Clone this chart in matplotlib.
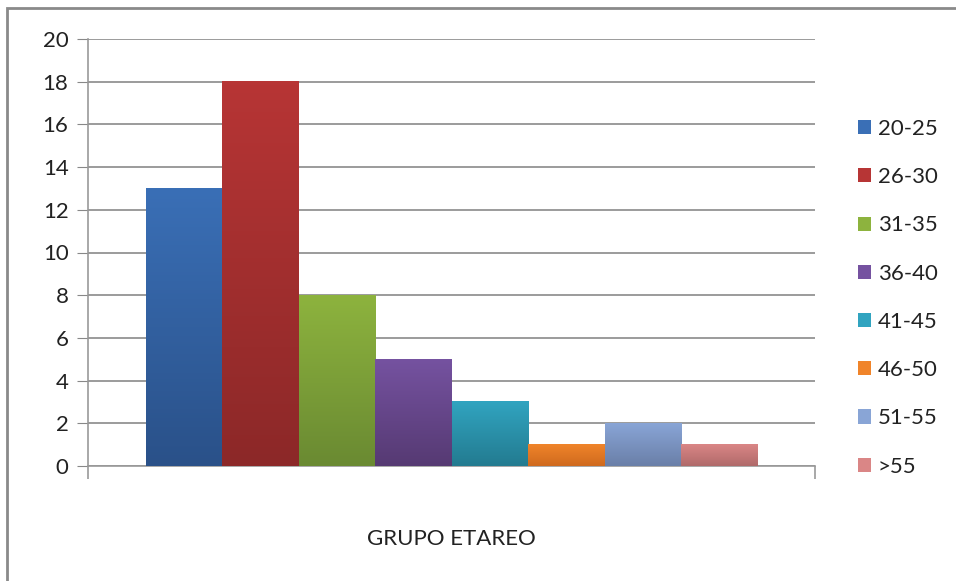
import numpy as np
import matplotlib.pyplot as plt
from matplotlib.patches import Rectangle, Patch
from matplotlib.colors import LinearSegmentedColormap

# Data

groups = ['20-25', '26-30', '31-35', '36-40', '41-45', '46-50', '51-55', '>55']
counts = [13, 18, 8, 5, 3, 1, 2, 1]
category = 'GRUPO ETAREO'

# top / bottom shades of each bar (Excel style gradient)
top_colors = ['#3a6fb6', '#b73535', '#8db33e', '#7552a0', '#31a4c0', '#f0842a', '#89a5d6', '#da8686']
bot_colors = ['#2a5189', '#8c2828', '#6a8a32', '#563a73', '#237b90', '#cf6a1e', '#6a7fa8', '#b06a6a']

plt.rcParams['font.family'] = ['Lato', 'DejaVu Sans']

fig = plt.figure(figsize=(9.56, 5.81), dpi=100)
ax = fig.add_axes([88/956, 1-466/581, (815-88)/956, (466-39)/581])

# Bars

width = 612/727/8
x = np.arange(len(groups)) * width + (1 - 8*width)/2 + width/2
bars = ax.bar(x, counts, width=width, color=top_colors, zorder=3)

grad = np.linspace(1, 0, 100).reshape(-1, 1)
for b, c1, c2 in zip(bars, top_colors, bot_colors):
    cmap = LinearSegmentedColormap.from_list('g', [c2, c1])
    x0, y0, w, h = b.get_x(), b.get_y(), b.get_width(), b.get_height()
    ax.imshow(grad, cmap=cmap, extent=[x0, x0+w, y0, y0+h], aspect='auto', zorder=4)

ax.set_xlim(0, 1)
ax.set_ylim(0, 20)
ax.set_yticks(range(0, 21, 2))
ax.set_xticks([0, 1])
ax.set_xticklabels(['', ''])
ax.tick_params(axis='y', length=8, color='#888888', labelsize=16, labelcolor='#222222', pad=6)
ax.tick_params(axis='x', length=9, color='#999999', width=1.2)
ax.grid(axis='y', color='#808080', linewidth=1.1, zorder=0)

for s in ['top', 'right']:
    ax.spines[s].set_visible(False)
for s in ['left', 'bottom']:
    ax.spines[s].set_color('#999999')
    ax.spines[s].set_linewidth(1.2)

ax.text(0.5, -0.17, category, transform=ax.transAxes, ha='center', va='center', fontsize=16, color='#222222')

# Legend

handles = [Patch(facecolor=c) for c in top_colors]
fig.legend(handles, groups, loc='upper left', bbox_to_anchor=(838/956, 1-99/581),
           frameon=False, fontsize=16, handlelength=0.6, handleheight=0.6,
           handletextpad=0.3, labelspacing=1.27, labelcolor='#222222')

# Outer frame

fig.patches.append(Rectangle((7/956, -0.1), 1.0, 1-8/581+0.1, transform=fig.transFigure,
                             fill=False, edgecolor='#8a8a8a', linewidth=2))

fig.savefig('out.png', dpi=100)
